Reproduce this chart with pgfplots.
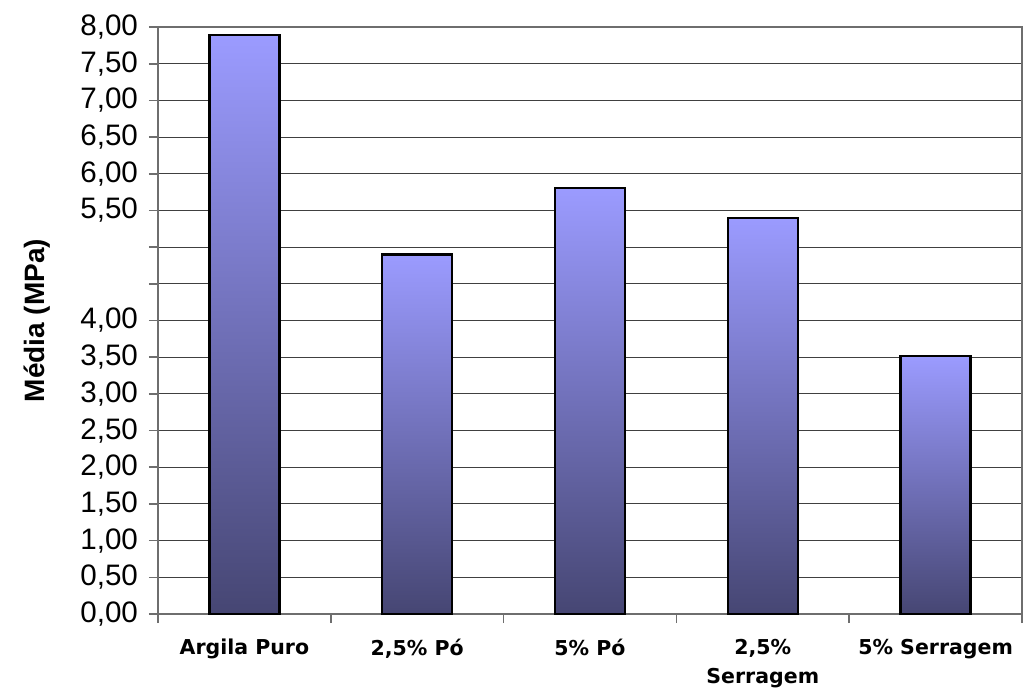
\documentclass[border=0pt]{standalone}
\usepackage{fontspec}
\setmainfont{Liberation Sans}
\newfontfamily\dejavu{DejaVu Sans}
\usepackage{pgfplots}
\pgfplotsset{compat=1.18}
\definecolor{bartop}{RGB}{155,155,255}
\definecolor{barbot}{RGB}{70,70,115}
\definecolor{axgray}{RGB}{110,110,110}
\begin{document}
\begin{tikzpicture}[x=1pt,y=1pt]
\path[use as bounding box] (-79,-39.5) rectangle (433,307);
\begin{axis}[
  scale only axis, width=432pt, height=293.5pt,
  xmin=-0.5, xmax=4.5, ymin=0, ymax=8,
  axis line style={draw=axgray, line width=1pt},
  tick align=outside,
  major tick length=4.5pt,
  xtick pos=bottom, ytick pos=left,
  tick style={draw=axgray, line width=0.8pt},
  ytick={0,0.5,...,8},
  yticklabels={{0,00},{0,50},{1,00},{1,50},{2,00},{2,50},{3,00},{3,50},{4,00},{},{},{5,50},{6,00},{6,50},{7,00},{7,50},{8,00}},
  yticklabel style={font=\fontsize{14.8}{17}\selectfont, xshift=-2pt},
  ymajorgrids,
  major grid style={draw=black!75, line width=0.5pt},
  xtick={-0.5,0.5,...,4.5},
  xticklabels={},
  extra x ticks={0,1,2,3,4},
  extra x tick labels={{Argila Puro},{2,5\% Pó},{5\% Pó},{2,5\%\\Serragem},{5\% Serragem}},
  extra x tick style={major tick length=0pt, grid=none,
     xticklabel style={font=\dejavu\bfseries\fontsize{10.25}{14.5}\selectfont, align=center, anchor=north, yshift=-9pt}},
  ylabel={\bfseries Média (MPa)},
  ylabel style={font=\fontsize{14}{17}\selectfont},
  every axis y label/.append style={at={(ticklabel cs:0.5)}, yshift=8pt},
  bar width=35pt,
  bstyle/.style={ybar, bar shift=0pt, draw=black, line width=1.2pt, top color=bartop, bottom color=barbot, mark=none},
]
\addplot[bstyle] coordinates {(0,7.89)};
\addplot[bstyle] coordinates {(1,4.90)};
\addplot[bstyle] coordinates {(2,5.81)};
\addplot[bstyle] coordinates {(3,5.40)};
\addplot[bstyle] coordinates {(4,3.52)};
\end{axis}
\end{tikzpicture}
\end{document}
